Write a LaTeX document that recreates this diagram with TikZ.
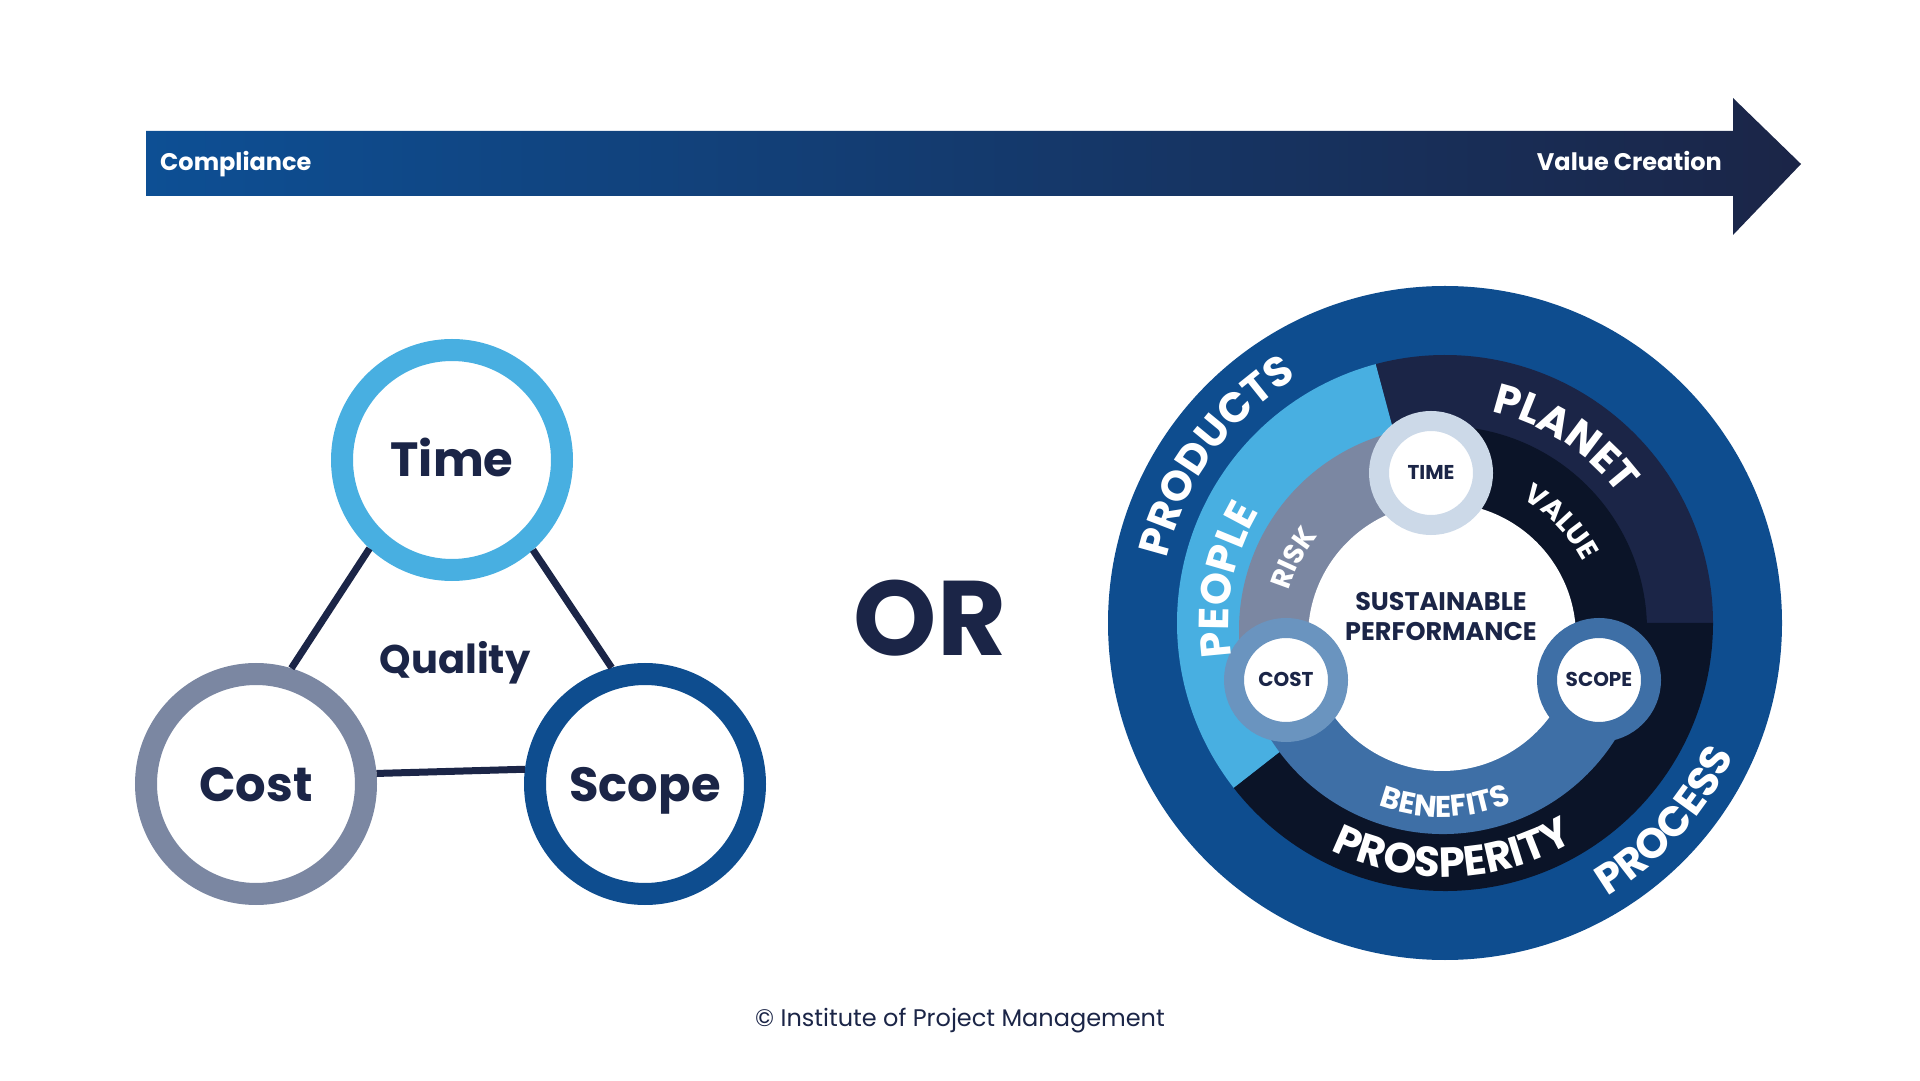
\documentclass[tikz,border=0pt]{standalone}
\usepackage{fontspec}
\setmainfont{Poppins}
\usepackage{tikz}
\usetikzlibrary{decorations.text}

\definecolor{navy}{HTML}{1B2547}
\definecolor{ink}{HTML}{0B1428}
\definecolor{royal}{HTML}{0E4D8F}
\definecolor{sky}{HTML}{48AFE1}
\definecolor{slate}{HTML}{7B87A2}
\definecolor{steel}{HTML}{3E6FA6}
\definecolor{mist}{HTML}{CCD9E8}
\definecolor{denim}{HTML}{6A94BF}
\definecolor{arrowA}{HTML}{0D4F94}

\newcommand{\fsz}[1]{\fontsize{#1}{#1}\selectfont}

\tikzset{
  ring/.style     = {circle, draw=#1, line width=22pt, minimum size=220pt,
                     fill=white, inner sep=0pt, font=\bfseries\fsz{48}, text=navy,
                     text height=34pt, text depth=0pt},
  hub/.style      = {circle, draw=#1, line width=20pt, minimum size=104pt,
                     fill=white, inner sep=0pt, font=\bfseries\fsz{20}, text=navy,
                     text height=14pt, text depth=0pt},
  link/.style     = {navy, line width=7pt},
  lbl/.style      = {font=\bfseries\fsz{24}, text=white, inner sep=0pt,
                     text height=17pt, text depth=0pt},
  bigarc/.style   = {decorate, decoration={text along path, text align=center,
                     text color=white, text={|\bfseries\fsz{42}|#1}}},
  smallarc/.style 2 args = {decorate, decoration={text along path, text align=center,
                     text color=white, text={|\bfseries\fsz{#1}|#2}}},
}

\begin{document}
\begin{tikzpicture}[x=1pt, y=1pt]
\useasboundingbox (0,0) rectangle (1920,1080);

% --- arrow ---
\shade[left color=arrowA, right color=navy]
  (146,884) -- (146,949) -- (1733,949) -- (1733,982) -- (1801,916)
  -- (1733,845) -- (1733,884) -- cycle;
\node[lbl, anchor=west] (comp) at (160,918) {Compliance};
\node[lbl, anchor=east] (vc) at (1722,918) {Value Creation};

% --- iron triangle ---
\node[ring=sky]   (time)  at (452,620) {Time};
\node[ring=slate] (cost)  at (256,296) {Cost};
\node[ring=royal] (scope) at (645,296) {Scope};
\node[font=\bfseries\fsz{40}, text=navy] (quality) at (455,417) {Quality};

\draw[link] (time.227) -- (cost.73);
\draw[link] (time.312) -- (scope.106);
\draw[link] (cost.5) -- (scope.173);

\node[font=\bfseries\fsz{106}, text=navy] (or) at (930,462) {OR};

% --- wheel ---
\coordinate (M) at (1445,457);
\coordinate (R) at (1443,450);
\coordinate (I) at (1442,443);

\fill[royal] (M) circle[radius=337pt];
\fill[navy] (M) -- ([shift={(0:268)}]M) arc[start angle=0, end angle=105, radius=268pt] -- cycle;
\fill[sky]  (M) -- ([shift={(105:268)}]M) arc[start angle=105, end angle=218, radius=268pt] -- cycle;
\fill[ink]  (M) -- ([shift={(218:268)}]M) arc[start angle=218, end angle=360, radius=268pt] -- cycle;

\fill[slate] (R) -- ([shift={(94:204)}]R) arc[start angle=94, end angle=198, radius=204pt] -- cycle;
\fill[steel] (R) -- ([shift={(198:204)}]R) arc[start angle=198, end angle=342, radius=204pt] -- cycle;
\fill[ink]   (R) -- ([shift={(342:204)}]R) arc[start angle=342, end angle=454, radius=204pt] -- cycle;
\fill[white] (I) circle[radius=134pt];

\node[font=\bfseries\fontsize{25.5}{30}\selectfont, text=navy, align=center]
  (perf) at (1441,463) {SUSTAINABLE\\PERFORMANCE};

\node[hub=mist]  (htime)  at (1431,607) {TIME};
\node[hub=denim] (hcost)  at (1286,400) {COST};
\node[hub=steel] (hscope) at (1599,400) {SCOPE};

% words round the rings
\path[bigarc=PRODUCTS]   ([shift={(184:286)}]M) arc[start angle=184, end angle=104, radius=286pt];
\path[bigarc=PROCESS]    ([shift={(-82:318)}]M) arc[start angle=-82, end angle=-2, radius=318pt];
\path[bigarc=PLANET]     ([shift={(97:216)}]M) arc[start angle=97, end angle=17, radius=216pt];
\path[bigarc=PEOPLE]     ([shift={(209:216)}]M) arc[start angle=209, end angle=129, radius=216pt];
\path[bigarc=PROSPERITY] ([shift={(222:254)}]M) arc[start angle=222, end angle=322, radius=254pt];
\path[smallarc={28}{RISK}]     ([shift={(192:160)}]I) arc[start angle=192, end angle=112, radius=160pt];
\path[smallarc={28}{VALUE}]    ([shift={(84:160)}]I) arc[start angle=84, end angle=4, radius=160pt];
\path[smallarc={30}{BENEFITS}] ([shift={(221:180)}]I) arc[start angle=221, end angle=321, radius=180pt];

\node[font=\fsz{24}, text=navy] (copy) at (960,59) {© Institute of Project Management};
\end{tikzpicture}
\end{document}
